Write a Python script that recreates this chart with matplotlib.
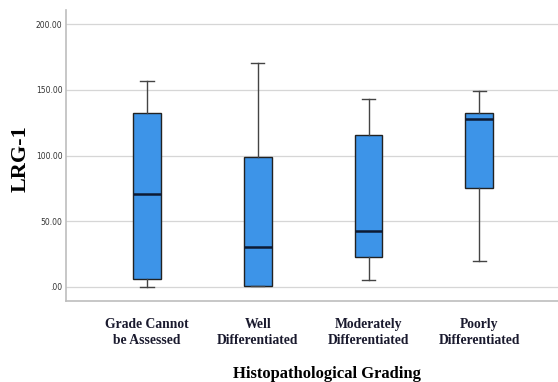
import matplotlib.pyplot as plt

groups = ['Grade Cannot\nbe Assessed', 'Well\nDifferentiated',
          'Moderately\nDifferentiated', 'Poorly\nDifferentiated']
whislo = [0.2, 0.5, 5.3, 19.8]
q1 = [6.3, 0.8, 23.1, 75.3]
med = [71.0, 30.7, 42.8, 128.1]
q3 = [132.6, 99.2, 115.4, 132.2]
whishi = [156.8, 170.7, 143.3, 148.9]
yticks = [0, 50, 100, 150, 200]
ytick_labels = ['.00', '50.00', '100.00', '150.00', '200.00']

stats = []
for i in range(len(groups)):
    stats.append({'whislo': whislo[i], 'q1': q1[i], 'med': med[i],
                  'q3': q3[i], 'whishi': whishi[i], 'fliers': []})

fig = plt.figure(figsize=(5.58, 3.82), dpi=100)
ax = fig.add_axes([66 / 558, 1 - 301 / 382, 492 / 558, 291 / 382])

ax.bxp(stats, positions=[1, 2, 3, 4], widths=0.25, patch_artist=True,
       boxprops=dict(facecolor='#3d94e8', edgecolor='#222222', linewidth=1.0),
       medianprops=dict(color='#0d1a33', linewidth=1.8),
       whiskerprops=dict(color='#444444', linewidth=1.0),
       capprops=dict(color='#444444', linewidth=1.0),
       capwidths=0.12, zorder=3)

ax.set_xlim(0.27, 4.71)
ax.set_ylim(-10.7, 210.8)
ax.set_yticks(yticks)
ax.set_yticklabels(ytick_labels, fontsize=5.5, color='#333333')
ax.set_xticks([1, 2, 3, 4])
ax.set_xticklabels(groups, fontsize=9.8, fontweight='bold',
                   family='Liberation Serif', color='#1a1a2e', linespacing=1.35)
ax.tick_params(axis='both', length=0)
ax.tick_params(axis='x', pad=12)
ax.tick_params(axis='y', pad=2.5)
ax.grid(axis='y', color='#d6d6d6', linewidth=0.9, zorder=0)
ax.set_axisbelow(True)

for s in ['top', 'right']:
    ax.spines[s].set_visible(False)
ax.spines['left'].set_color('#bdbdbd')
ax.spines['bottom'].set_color('#bdbdbd')
ax.spines['left'].set_linewidth(1.2)
ax.spines['bottom'].set_linewidth(1.2)

ax.set_ylabel('LRG-1', fontsize=16, fontweight='bold', family='Liberation Serif')
ax.yaxis.set_label_coords(-0.071, 0.49)
ax.set_xlabel('Histopathological Grading', fontsize=12, fontweight='bold',
              family='Liberation Serif')
ax.xaxis.set_label_coords(0.53, -0.225)

plt.savefig('out.png')
